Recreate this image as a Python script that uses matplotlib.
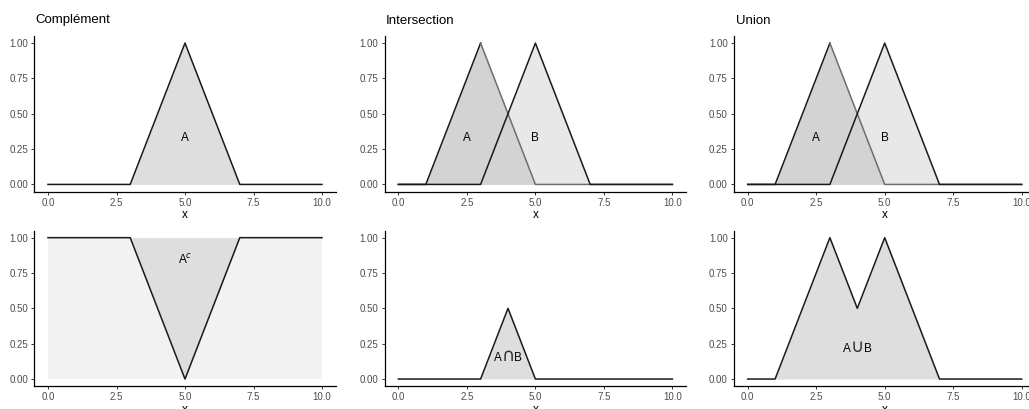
import numpy as np
import matplotlib
matplotlib.use("Agg")
import matplotlib.pyplot as plt

plt.rcParams['font.family'] = ['Liberation Sans', 'DejaVu Sans']

# membership functions, given at their break points
xs = np.array([0, 1, 3, 4, 5, 7, 10])
mu_A = np.array([0, 0, 1, 0.5, 0, 0, 0])      # triangle 1-3-5
mu_B = np.array([0, 0, 0, 0.5, 1, 0, 0])      # triangle 3-5-7
mu_C = np.array([0, 0, 0, 0.5, 1, 0, 0])      # triangle 3-5-7 (complement panel)

titles = ['Complément', 'Intersection', 'Union']
xticks = [0, 2.5, 5, 7.5, 10]
yticks = [0, 0.25, 0.5, 0.75, 1.0]

LINE = '#1a1a1a'
DARK = '#d3d3d3'
LIGHT = '#e8e8e8'
MID = '#dedede'
BG = '#f2f2f2'

fig = plt.figure(figsize=(10.29, 4.09), dpi=100)
W, H = 1029, 409
lefts = [34.3, 384.7, 734.0]
tops = [36.0, 230.6]
aw, ah = 301.4, 155.5

axes = {}
for r in range(2):
    for c in range(3):
        ax = fig.add_axes([lefts[c] / W, (H - tops[r] - ah) / H, aw / W, ah / H])
        ax.set_xlim(-0.5, 10.5)
        ax.set_ylim(-0.05, 1.05)
        ax.set_xticks(xticks)
        ax.set_xticklabels(['%.1f' % t for t in xticks])
        ax.set_yticks(yticks)
        ax.set_yticklabels(['%.2f' % t for t in yticks])
        for s in ['top', 'right']:
            ax.spines[s].set_visible(False)
        for s in ['left', 'bottom']:
            ax.spines[s].set_linewidth(0.9)
            ax.spines[s].set_color('black')
        ax.tick_params(length=2.5, width=0.7, colors='#333333', labelsize=7,
                       labelcolor='#4d4d4d', pad=2)
        ax.set_xlabel('x', fontsize=8.5, labelpad=1)
        if r == 0:
            ax.set_title(titles[c], loc='left', fontsize=9.5, pad=9, x=0.005)
        axes[(r, c)] = ax


def two_sets(ax):
    ax.fill_between(xs, 0, mu_B, color=LIGHT, lw=0)
    ax.fill_between(xs, 0, mu_A, color=DARK, lw=0)
    # the falling side of A lies under the B fill, so it shows lighter
    up = xs <= 3
    down = xs >= 3
    ax.plot(xs[up], mu_A[up], color=LINE, lw=1.1)
    ax.plot(xs[down], mu_A[down], color='#6e6e6e', lw=1.1)
    ax.plot(xs, mu_B, color=LINE, lw=1.1)
    ax.text(2.5, 0.33, 'A', ha='center', va='center', fontsize=8.5)
    ax.text(5, 0.33, 'B', ha='center', va='center', fontsize=8.5)


def op_label(ax, x, y, sym):
    # "A <sym> B" with the set symbol drawn as tall as the letters
    kw = dict(textcoords='offset points', va='baseline')
    ax.annotate(sym, (x, y), xytext=(0, -3.1), ha='center', fontsize=13,
                family=['DejaVu Sans'], color='#333333', **kw)
    ax.annotate('A', (x, y), xytext=(-4.6, -3.1), ha='right', fontsize=8.5, **kw)
    ax.annotate('B', (x, y), xytext=(4.6, -3.1), ha='left', fontsize=8.5, **kw)


# complement
ax = axes[(0, 0)]
ax.fill_between(xs, 0, mu_C, color=MID, lw=0)
ax.plot(xs, mu_C, color=LINE, lw=1.1)
ax.text(5, 0.33, 'A', ha='center', va='center', fontsize=8.5)

ax = axes[(1, 0)]
comp = 1 - mu_C
ax.fill_between(xs, 0, 1, color=BG, lw=0)
ax.fill_between(xs, comp, 1, color=MID, lw=0)
ax.plot(xs, comp, color=LINE, lw=1.1)
ax.text(5, 0.84, 'A$^{c}$', ha='center', va='center', fontsize=8.5)

# intersection
two_sets(axes[(0, 1)])
ax = axes[(1, 1)]
inter = np.minimum(mu_A, mu_B)
ax.fill_between(xs, 0, inter, color=MID, lw=0)
ax.plot(xs, inter, color=LINE, lw=1.1)
op_label(ax, 4, 0.16, '\u2229')

# union
two_sets(axes[(0, 2)])
ax = axes[(1, 2)]
uni = np.maximum(mu_A, mu_B)
ax.fill_between(xs, 0, uni, color=MID, lw=0)
ax.plot(xs, uni, color=LINE, lw=1.1)
op_label(ax, 4, 0.22, '\u222a')

fig.savefig('out.png', dpi=100)
